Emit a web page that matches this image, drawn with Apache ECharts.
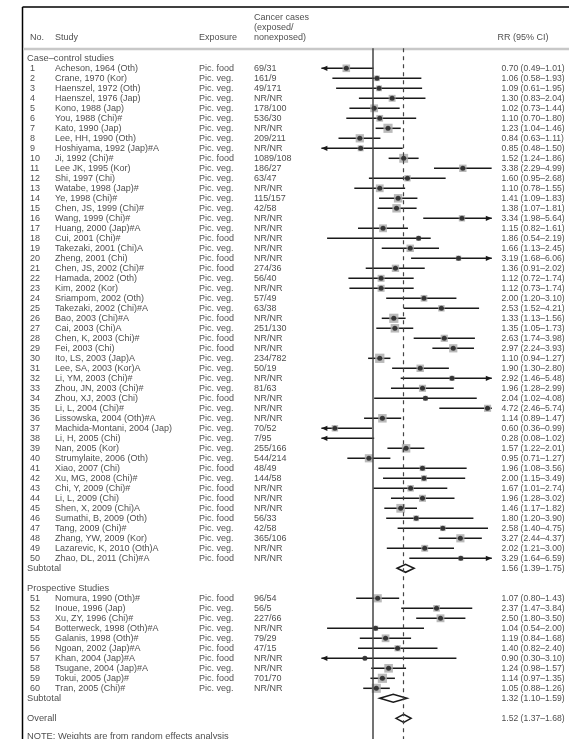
<!DOCTYPE html>
<html>
<head>
<meta charset="utf-8">
<title>Forest plot</title>
<style>
  html, body { margin: 0; padding: 0; background: #fff; }
  #chart { width: 569px; height: 739px; }
</style>
<script src="https://cdn.jsdelivr.net/npm/echarts/dist/echarts.min.js"></script>
</head>
<body>
<div id="chart"></div>
<script>
// study rows
const studies = [
  'Acheson, 1964 (Oth)', 'Crane, 1970 (Kor)', 'Haenszel, 1972 (Oth)', 'Haenszel, 1976 (Jap)',
  'Kono, 1988 (Jap)', 'You, 1988 (Chi)#', 'Kato, 1990 (Jap)', 'Lee, HH, 1990 (Oth)',
  'Hoshiyama, 1992 (Jap)#A', 'Ji, 1992 (Chi)#', 'Lee JK, 1995 (Kor)', 'Shi, 1997 (Chi)',
  'Watabe, 1998 (Jap)#', 'Ye, 1998 (Chi)#', 'Chen, JS, 1999 (Chi)#', 'Wang, 1999 (Chi)#',
  'Huang, 2000 (Jap)#A', 'Cui, 2001 (Chi)#', 'Takezaki, 2001 (Chi)A', 'Zheng, 2001 (Chi)',
  'Chen, JS, 2002 (Chi)#', 'Hamada, 2002 (Oth)', 'Kim, 2002 (Kor)', 'Sriampom, 2002 (Oth)',
  'Takezaki, 2002 (Chi)#A', 'Bao, 2003 (Chi)#A', 'Cai, 2003 (Chi)A', 'Chen, K, 2003 (Chi)#',
  'Fei, 2003 (Chi)', 'Ito, LS, 2003 (Jap)A', 'Lee, SA, 2003 (Kor)A', 'Li, YM, 2003 (Chi)#',
  'Zhou, JN, 2003 (Chi)#', 'Zhou, XJ, 2003 (Chi)', 'Li, L, 2004 (Chi)#', 'Lissowska, 2004 (Oth)#A',
  'Machida-Montani, 2004 (Jap)', 'Li, H, 2005 (Chi)', 'Nan, 2005 (Kor)', 'Strumylaite, 2006 (Oth)',
  'Xiao, 2007 (Chi)', 'Xu, MG, 2008 (Chi)#', 'Chi, Y, 2009 (Chi)#', 'Li, L, 2009 (Chi)',
  'Shen, X, 2009 (Chi)A', 'Sumathi, B, 2009 (Oth)', 'Tang, 2009 (Chi)#', 'Zhang, YW, 2009 (Kor)',
  'Lazarevic, K, 2010 (Oth)A', 'Zhao, DL, 2011 (Chi)#A',
  'Nomura, 1990 (Oth)#', 'Inoue, 1996 (Jap)', 'Xu, ZY, 1996 (Chi)#', 'Botterweck, 1998 (Oth)#A',
  'Galanis, 1998 (Oth)#', 'Ngoan, 2002 (Jap)#A', 'Khan, 2004 (Jap)#A', 'Tsugane, 2004 (Jap)#A',
  'Tokui, 2005 (Jap)#', 'Tran, 2005 (Chi)#'
];
const exposure = [
  'Pic. food', 'Pic. veg.', 'Pic. veg.', 'Pic. veg.', 'Pic. veg.', 'Pic. veg.', 'Pic. veg.', 'Pic. veg.',
  'Pic. veg.', 'Pic. food', 'Pic. veg.', 'Pic. veg.', 'Pic. veg.', 'Pic. veg.', 'Pic. veg.', 'Pic. veg.',
  'Pic. veg.', 'Pic. food', 'Pic. veg.', 'Pic. food', 'Pic. food', 'Pic. veg.', 'Pic. veg.', 'Pic. veg.',
  'Pic. veg.', 'Pic. food', 'Pic. veg.', 'Pic. food', 'Pic. food', 'Pic. veg.', 'Pic. veg.', 'Pic. veg.',
  'Pic. veg.', 'Pic. food', 'Pic. veg.', 'Pic. veg.', 'Pic. veg.', 'Pic. veg.', 'Pic. veg.', 'Pic. veg.',
  'Pic. food', 'Pic. veg.', 'Pic. food', 'Pic. food', 'Pic. food', 'Pic. food', 'Pic. veg.', 'Pic. veg.',
  'Pic. veg.', 'Pic. food',
  'Pic. food', 'Pic. veg.', 'Pic. veg.', 'Pic. veg.', 'Pic. veg.', 'Pic. food', 'Pic. food', 'Pic. veg.',
  'Pic. food', 'Pic. veg.'
];
const cases = [
  '69/31', '161/9', '49/171', 'NR/NR', '178/100', '536/30', 'NR/NR', '209/211',
  'NR/NR', '1089/108', '186/27', '63/47', 'NR/NR', '115/157', '42/58', 'NR/NR',
  'NR/NR', 'NR/NR', 'NR/NR', 'NR/NR', '274/36', '56/40', 'NR/NR', '57/49',
  '63/38', 'NR/NR', '251/130', 'NR/NR', 'NR/NR', '234/782', '50/19', 'NR/NR',
  '81/63', 'NR/NR', 'NR/NR', 'NR/NR', '70/52', '7/95', '255/166', '544/214',
  '48/49', '144/58', 'NR/NR', 'NR/NR', 'NR/NR', '56/33', '42/58', '365/106',
  'NR/NR', 'NR/NR',
  '96/54', '56/5', '227/66', 'NR/NR', '79/29', '47/15', 'NR/NR', 'NR/NR',
  '701/70', 'NR/NR'
];
const rr = [
  0.70, 1.06, 1.09, 1.30, 1.02, 1.10, 1.23, 0.84, 0.85, 1.52, 3.38, 1.60, 1.10, 1.41, 1.38, 3.34,
  1.15, 1.86, 1.66, 3.19, 1.36, 1.12, 1.12, 2.00, 2.53, 1.33, 1.35, 2.63, 2.97, 1.10, 1.90, 2.92,
  1.96, 2.04, 4.72, 1.14, 0.60, 0.28, 1.57, 0.95, 1.96, 2.00, 1.67, 1.96, 1.46, 1.80, 2.58, 3.27,
  2.02, 3.29,
  1.07, 2.37, 2.50, 1.04, 1.19, 1.40, 0.90, 1.24, 1.14, 1.05
];
const lower = [
  0.49, 0.58, 0.61, 0.83, 0.73, 0.70, 1.04, 0.63, 0.48, 1.24, 2.29, 0.95, 0.78, 1.09, 1.07, 1.98,
  0.82, 0.54, 1.13, 1.68, 0.91, 0.72, 0.73, 1.20, 1.52, 1.13, 1.05, 1.74, 2.24, 0.94, 1.30, 1.46,
  1.28, 1.02, 2.46, 0.89, 0.36, 0.08, 1.22, 0.71, 1.08, 1.15, 1.01, 1.28, 1.17, 1.20, 1.40, 2.44,
  1.21, 1.64,
  0.80, 1.47, 1.80, 0.54, 0.84, 0.82, 0.30, 0.98, 0.97, 0.88
];
const upper = [
  1.01, 1.93, 1.95, 2.04, 1.44, 1.80, 1.46, 1.11, 1.50, 1.86, 4.99, 2.68, 1.55, 1.83, 1.81, 5.64,
  1.61, 2.19, 2.45, 6.06, 2.02, 1.74, 1.74, 3.10, 4.21, 1.56, 1.73, 3.98, 3.93, 1.27, 2.80, 5.48,
  2.99, 4.08, 5.74, 1.47, 0.99, 1.02, 2.01, 1.27, 3.56, 3.49, 2.74, 3.02, 1.82, 3.90, 4.75, 4.37,
  3.00, 6.59,
  1.43, 3.84, 3.50, 2.00, 1.68, 2.40, 3.10, 1.57, 1.35, 1.26
];

// pooled estimates
const pooledLabels = ['Subtotal', 'Subtotal', 'Overall'];
const pooledRR = [1.56, 1.32, 1.52];
const pooledLower = [1.39, 1.10, 1.37];
const pooledUpper = [1.75, 1.59, 1.68];

// headings
const sections = ['Case\u2013control studies', 'Prospective Studies'];
const headCols = ['No.', 'Study', 'Exposure', 'RR (95% CI)'];
const casesHead = ['Cancer cases', '(exposed/', 'nonexposed)'];
const note = 'NOTE: Weights are from random effects analysis';

const X_MIN = 0.5, X_MAX = 5;
const FONT = '"Liberation Sans", Arial, sans-serif';
const INK = '#1a1a1a';

// row layout (one slot = 10px)
const studySlot = i => (i < 50 ? i + 2 : i + 5);
const pooledSlot = [52, 65, 67];
const sectionSlot = [1, 54];

const fmt = v => v.toFixed(2);
const ciText = (r, l, u) => fmt(r) + ' (' + fmt(l) + '\u2013' + fmt(u) + ')';

function textSeries(items, size, extra) {
  return Object.assign({
    type: 'scatter', xAxisIndex: 1, yAxisIndex: 1, silent: true,
    symbolSize: 1, itemStyle: { color: 'rgba(0,0,0,0)' }, clip: false, z: 5,
    data: items,
    label: {
      show: true, position: 'inside', align: 'left', verticalAlign: 'middle',
      formatter: p => p.value[2], fontSize: size, fontFamily: FONT, color: INK
    }
  }, extra || {});
}

const colX = { no: 30, study: 55, expo: 199, cases: 254, rr: 501.5, section: 27 };

const noItems = studies.map((s, i) => [colX.no, studySlot(i), String(i + 1)]);
const studyItems = studies.map((s, i) => [colX.study, studySlot(i), s]);
const expoItems = exposure.map((s, i) => [colX.expo, studySlot(i), s]);
const caseItems = cases.map((s, i) => [colX.cases, studySlot(i), s]);
const rrItems = rr.map((r, i) => [colX.rr, studySlot(i), ciText(r, lower[i], upper[i])])
  .concat(pooledRR.map((r, i) => [colX.rr, pooledSlot[i], ciText(r, pooledLower[i], pooledUpper[i])]));
const sectionItems = sections.map((s, i) => [colX.section, sectionSlot[i], s])
  .concat(pooledLabels.map((s, i) => [colX.section, pooledSlot[i], s]))
  .concat([[colX.section, 68.8, note]]);
const headItems = [
  [colX.no, -1.06, headCols[0]], [colX.study, -1.06, headCols[1]],
  [colX.expo, -1.06, headCols[2]], [colX.rr - 4, -1.06, headCols[3]]
].concat(casesHead.map((s, i) => [colX.cases, -3.1 + i * 1.02, s]));

const ciData = rr.map((r, i) => [lower[i], upper[i], studySlot(i), r]);
const boxData = rr.map((r, i) => {
  const w = Math.max(4, Math.min(10, 10.5 - 4 * Math.log(upper[i] / lower[i])));
  return { value: [r, studySlot(i)], symbolSize: w };
});
const dotData = rr.map((r, i) => [r, studySlot(i)]);
const diamondData = pooledRR.map((r, i) => [pooledLower[i], pooledUpper[i], pooledSlot[i], r]);

function renderCI(params, api) {
  const lo = api.value(0), hi = api.value(1), y = api.value(2);
  const a = api.coord([Math.max(lo, X_MIN), y]);
  const b = api.coord([Math.min(hi, X_MAX), y]);
  const kids = [{
    type: 'line', shape: { x1: a[0], y1: a[1], x2: b[0], y2: b[1] },
    style: { stroke: INK, lineWidth: 1.5 }
  }];
  if (lo < X_MIN) {
    kids.push({ type: 'polygon', shape: { points: [[a[0], a[1]], [a[0] + 6, a[1] - 2.6], [a[0] + 6, a[1] + 2.6]] }, style: { fill: INK } });
  }
  if (hi > X_MAX) {
    kids.push({ type: 'polygon', shape: { points: [[b[0], b[1]], [b[0] - 6, b[1] - 2.6], [b[0] - 6, b[1] + 2.6]] }, style: { fill: INK } });
  }
  return { type: 'group', children: kids };
}

function renderDiamond(params, api) {
  const y = api.value(2);
  const l = api.coord([api.value(0), y]);
  const r = api.coord([api.value(1), y]);
  const m = api.coord([api.value(3), y]);
  return {
    type: 'polygon',
    shape: { points: [[l[0], l[1]], [m[0], m[1] - 4], [r[0], r[1]], [m[0], m[1] + 4]] },
    style: { fill: '#fff', stroke: INK, lineWidth: 1.5 }
  };
}

const chart = echarts.init(document.getElementById('chart'), null, { renderer: 'canvas' });
chart.setOption({
  animation: false,
  backgroundColor: '#fff',
  grid: [
    { left: 321.4, width: 170.4, top: 48.3, height: 690.7 },
    { left: 0, width: 569, top: 0, height: 739 }
  ],
  xAxis: [
    { type: 'log', gridIndex: 0, min: X_MIN, max: X_MAX, show: false },
    { type: 'value', gridIndex: 1, min: 0, max: 569, show: false }
  ],
  yAxis: [
    { type: 'value', gridIndex: 0, min: 0, max: 69.07, inverse: true, show: false },
    { type: 'value', gridIndex: 1, min: -4.83, max: 69.07, inverse: true, show: false }
  ],
  graphic: [
    { type: 'line', shape: { x1: 22.5, y1: 7, x2: 569, y2: 7 }, style: { stroke: '#000', lineWidth: 1.5 } },
    { type: 'line', shape: { x1: 22.5, y1: 7, x2: 22.5, y2: 739 }, style: { stroke: '#000', lineWidth: 1.5 } },
    { type: 'line', shape: { x1: 23, y1: 49, x2: 569, y2: 49 }, style: { stroke: '#c8c8c8', lineWidth: 2.5 } }
  ],
  series: [
    {
      type: 'custom', xAxisIndex: 0, yAxisIndex: 0, silent: true, z: 2,
      renderItem: renderCI, data: ciData, encode: { x: [0, 1], y: 2 },
      markLine: {
        silent: true, symbol: 'none', label: { show: false },
        data: [
          { xAxis: 1, lineStyle: { color: '#444', width: 1.5, type: 'solid' } },
          { xAxis: pooledRR[2], lineStyle: { color: '#444', width: 1.2, type: [4, 4] } }
        ]
      }
    },
    {
      type: 'scatter', xAxisIndex: 0, yAxisIndex: 0, silent: true, clip: true, z: 3,
      symbol: 'rect', itemStyle: { color: '#a9a9a9' }, data: boxData
    },
    {
      type: 'scatter', xAxisIndex: 0, yAxisIndex: 0, silent: true, clip: true, z: 4,
      symbol: 'circle', symbolSize: 5, itemStyle: { color: INK }, data: dotData
    },
    {
      type: 'custom', xAxisIndex: 0, yAxisIndex: 0, silent: true, z: 4,
      renderItem: renderDiamond, data: diamondData, encode: { x: [0, 1], y: 2 }
    },
    textSeries(noItems, 9),
    textSeries(studyItems, 9),
    textSeries(expoItems, 9),
    textSeries(caseItems, 9),
    textSeries(rrItems, 8.6),
    textSeries(sectionItems, 9.3),
    textSeries(headItems, 9)
  ]
});
</script>
</body>
</html>
